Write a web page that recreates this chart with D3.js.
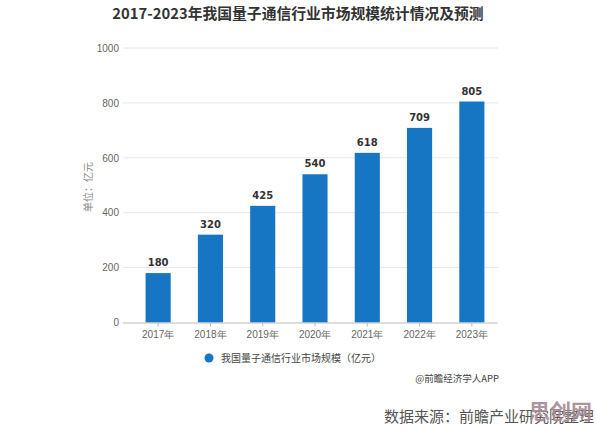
<!DOCTYPE html>
<html>
<head>
<meta charset="utf-8">
<script src="https://cdn.jsdelivr.net/npm/d3@7"></script>
<style>
  body { margin: 0; background: #fff; }
  svg { display: block; font-family: "Noto Sans CJK SC", "Noto Sans", sans-serif; }
</style>
</head>
<body>
<svg id="chart"></svg>
<script>
const years = ['2017年', '2018年', '2019年', '2020年', '2021年', '2022年', '2023年'];
const marketSize = [180, 320, 425, 540, 618, 709, 805];
const yTicks = [0, 200, 400, 600, 800, 1000];

const W = 596, H = 430;
const svg = d3.select('#chart').attr('width', W).attr('height', H);

const xScale = d3.scaleBand()
  .domain(years)
  .range([132, 498])
  .paddingInner(0.52)
  .paddingOuter(0.26);

const yScale = d3.scaleLinear()
  .domain([0, 1000])
  .range([322.5, 48]);

const blue = '#1776c4';

// title
svg.append('text')
  .attr('x', 298).attr('y', 19)
  .attr('text-anchor', 'middle')
  .style('font-size', '14.8px')
  .style('font-weight', 'bold')
  .attr('fill', '#333')
  .text('2017-2023年我国量子通信行业市场规模统计情况及预测');

// gridlines
svg.append('g')
  .selectAll('line')
  .data(yTicks.filter(d => d > 0))
  .enter()
  .append('line')
  .attr('x1', 123).attr('x2', 498)
  .attr('y1', d => yScale(d)).attr('y2', d => yScale(d))
  .attr('stroke', '#e6e6e6');

// y axis labels
const yAxis = svg.append('g')
  .attr('transform', 'translate(123,0)')
  .call(d3.axisLeft(yScale).tickValues(yTicks).tickFormat(d3.format('d')).tickSize(0).tickPadding(4));
yAxis.select('.domain').remove();
yAxis.selectAll('text')
  .style('font-size', '10px')
  .style('font-family', '"Liberation Sans", sans-serif')
  .attr('fill', '#666');

// y axis title
svg.append('text')
  .attr('transform', 'translate(92,187) rotate(-90)')
  .attr('text-anchor', 'middle')
  .style('font-size', '10px')
  .attr('fill', '#888')
  .text('单位：亿元');

// bars
svg.append('g')
  .selectAll('rect')
  .data(marketSize)
  .enter()
  .append('rect')
  .attr('x', (d, i) => xScale(years[i]))
  .attr('y', d => yScale(d))
  .attr('width', xScale.bandwidth())
  .attr('height', d => yScale(0) - yScale(d))
  .attr('fill', blue);

// value labels
svg.append('g')
  .selectAll('text')
  .data(marketSize)
  .enter()
  .append('text')
  .attr('x', (d, i) => xScale(years[i]) + xScale.bandwidth() / 2)
  .attr('y', d => yScale(d) - 7)
  .attr('text-anchor', 'middle')
  .style('font-size', '10px')
  .style('font-weight', 'bold')
  .style('font-family', '"DejaVu Sans", sans-serif')
  .attr('fill', '#333')
  .text(d => d);

// x axis
const xAxis = svg.append('g')
  .attr('transform', `translate(0,${yScale(0)})`)
  .call(d3.axisBottom(xScale).tickSize(4).tickSizeOuter(0).tickPadding(4));
xAxis.select('.domain')
  .attr('d', 'M123,0.5H498')
  .attr('stroke', '#bbb');
xAxis.selectAll('.tick line').attr('stroke', '#bbb');
xAxis.selectAll('text')
  .style('font-size', '10px')
  .attr('fill', '#666');

// legend
svg.append('circle')
  .attr('cx', 209).attr('cy', 358).attr('r', 4.5)
  .attr('fill', blue);
svg.append('text')
  .attr('x', 221).attr('y', 362)
  .style('font-size', '10px')
  .attr('fill', '#444')
  .text('我国量子通信行业市场规模（亿元）');

// credit
svg.append('text')
  .attr('x', 499).attr('y', 382)
  .attr('text-anchor', 'end')
  .style('font-size', '9.5px')
  .attr('fill', '#444')
  .text('@前瞻经济学人APP');

// source
svg.append('text')
  .attr('x', 384).attr('y', 422)
  .style('font-size', '15px')
  .attr('fill', '#555')
  .text('数据来源：前瞻产业研究院整理');

// overlay mark
svg.append('text')
  .attr('x', 529).attr('y', 419)
  .style('font-size', '21px')
  .style('font-weight', 'bold')
  .attr('fill', '#a58a95')
  .attr('opacity', 0.9)
  .text('思创网');
</script>
</body>
</html>
